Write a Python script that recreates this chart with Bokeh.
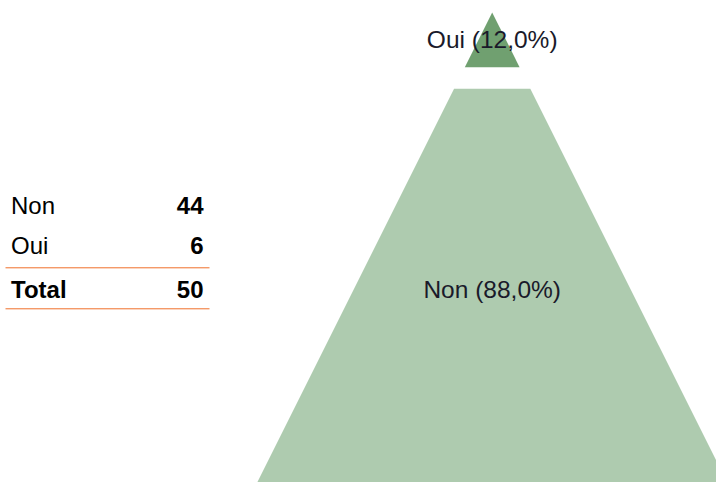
from bokeh.plotting import figure
from bokeh.models import ColumnDataSource, Range1d
from bokeh.core.properties import value
from bokeh.embed import file_html
from bokeh.resources import INLINE

# ---- data ----
categories = ["Non", "Oui"]
counts = [44, 6]
total_label = "Total"
pyramid_order = ["Oui", "Non"]          # top to bottom
seg_colors = {"Oui": "#70a070", "Non": "#aecbaf"}

total = sum(counts)
count_of = dict(zip(categories, counts))

# ---- layout constants (pixels in plot space) ----
W, H = 716, 482
apex_x, apex_y = 491.7, 12.0
pyr_height = 478.0
gap = 21.5
slope = 0.5
font = "Liberation Sans"
fs_lab = "24.5px"
fs_tab = "24px"

p = figure(width=W, height=H, output_backend="svg", toolbar_location=None,
           x_range=Range1d(0, W), y_range=Range1d(H, 0),
           min_border=0, outline_line_color=None)
p.axis.visible = False
p.grid.visible = False
p.background_fill_color = "white"
p.border_fill_color = "white"

# ---- pyramid ----
usable = pyr_height - gap * (len(pyramid_order) - 1)
xs, ys, cols, lab_x, lab_y, lab_t = [], [], [], [], [], []
depth = 0.0
for cat in pyramid_order:
    v = count_of[cat]
    h = v / total * usable
    top, bot = depth, depth + h
    xs.append([apex_x - slope * top, apex_x + slope * top,
               apex_x + slope * bot, apex_x - slope * bot])
    ys.append([apex_y + top, apex_y + top, apex_y + bot, apex_y + bot])
    cols.append(seg_colors[cat])
    lab_x.append(apex_x)
    lab_y.append(apex_y + (top + bot) / 2)
    lab_t.append(f"{cat} ({v / total * 100:.1f}%)".replace(".", ","))
    depth = bot + gap

p.patches(xs="xs", ys="ys", fill_color="cols", line_color=None,
          source=ColumnDataSource(dict(xs=xs, ys=ys, cols=cols)))
p.text(x=lab_x, y=lab_y, text=lab_t, text_align="center",
       text_baseline="middle", text_font=value(font),
       text_font_size=fs_lab, text_color="#1a1a2a")

# ---- table ----
row_y = [205.0, 245.0]
name_x, num_x = 10.5, 203.0
p.text(x=[name_x] * len(categories), y=row_y, text=categories,
       text_align="left", text_baseline="middle", text_font=value(font),
       text_font_size=fs_tab, text_color="black")
p.text(x=[num_x] * len(categories), y=row_y, text=[str(c) for c in counts],
       text_align="right", text_baseline="middle", text_font=value(font),
       text_font_size=fs_tab, text_font_style="bold", text_color="black")
total_y = 289.0
p.text(x=[name_x], y=[total_y], text=[total_label], text_align="left",
       text_baseline="middle", text_font=value(font), text_font_size=fs_tab,
       text_font_style="bold", text_color="black")
p.text(x=[num_x], y=[total_y], text=[str(total)], text_align="right",
       text_baseline="middle", text_font=value(font), text_font_size=fs_tab,
       text_font_style="bold", text_color="black")
p.segment(x0=[5, 5], x1=[209, 209], y0=[267.3, 308.3], y1=[267.3, 308.3],
          line_color="#f0702a", line_width=1)

open("out.html", "w").write(file_html(p, INLINE))
